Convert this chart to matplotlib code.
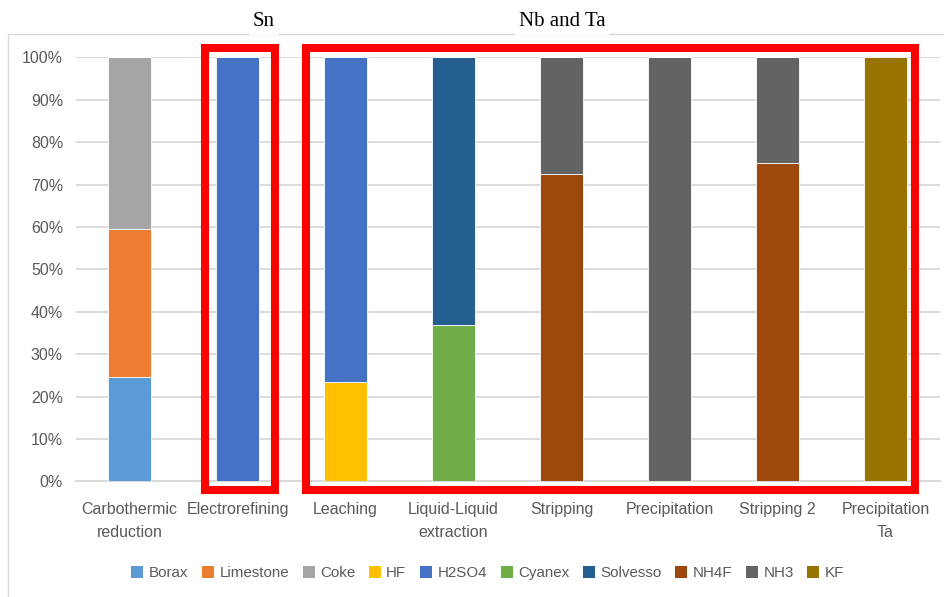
import matplotlib
matplotlib.use('Agg')
import matplotlib.pyplot as plt
from matplotlib.patches import Patch, Rectangle
from matplotlib.ticker import PercentFormatter

plt.rcParams['font.family'] = ['Liberation Sans Narrow', 'Liberation Sans', 'DejaVu Sans']

# reagent share per process step (%)
steps = ['Carbothermic\nreduction', 'Electrorefining', 'Leaching', 'Liquid-Liquid\nextraction',
         'Stripping', 'Precipitation', 'Stripping 2', 'Precipitation\nTa']
reagents = ['Borax', 'Limestone', 'Coke', 'HF', 'H2SO4', 'Cyanex', 'Solvesso', 'NH4F', 'NH3', 'KF']
borax     = [24.6, 0, 0, 0, 0, 0, 0, 0]
limestone = [35.0, 0, 0, 0, 0, 0, 0, 0]
coke      = [40.4, 0, 0, 0, 0, 0, 0, 0]
hf        = [0, 0, 23.4, 0, 0, 0, 0, 0]
h2so4     = [0, 100, 76.6, 0, 0, 0, 0, 0]
cyanex    = [0, 0, 0, 36.8, 0, 0, 0, 0]
solvesso  = [0, 0, 0, 63.2, 0, 0, 0, 0]
nh4f      = [0, 0, 0, 0, 72.6, 0, 75.0, 0]
nh3       = [0, 0, 0, 0, 27.4, 100, 25.0, 0]
kf        = [0, 0, 0, 0, 0, 0, 0, 100]
series = [borax, limestone, coke, hf, h2so4, cyanex, solvesso, nh4f, nh3, kf]
colors = ['#5B9BD5', '#ED7D31', '#A5A5A5', '#FFC000', '#4472C4',
          '#70AD47', '#255E91', '#9E480E', '#636363', '#997300']

fig = plt.figure(figsize=(9.45, 5.97), dpi=100)
ax = fig.add_axes([0.0799, 0.1935, 0.9143, 0.7102])

x = list(range(len(steps)))
bottom = [0.0] * len(steps)
for vals, c in zip(series, colors):
    ax.bar(x, vals, width=0.40, bottom=bottom, color=c, edgecolor='white', linewidth=0.6, zorder=3)
    bottom = [b + v for b, v in zip(bottom, vals)]

ax.set_xlim(-0.5, len(steps) - 0.5)
ax.set_ylim(0, 100)
ax.set_yticks(range(0, 101, 10))
ax.yaxis.set_major_formatter(PercentFormatter(decimals=0))
ax.set_xticks(x)
ax.set_xticklabels(steps, linespacing=1.6)
ax.tick_params(axis='both', length=0, colors='#595959', labelsize=11.5)
ax.tick_params(axis='x', pad=15)
ax.tick_params(axis='y', pad=9)
ax.grid(axis='y', color='#D9D9D9', linewidth=1.3, zorder=0)
for s in ['top', 'right', 'left']:
    ax.spines[s].set_visible(False)
ax.spines['bottom'].set_color('#D9D9D9')
ax.spines['bottom'].set_linewidth(1.3)

# red boxes around the Sn and the Nb/Ta steps
for x0, x1 in [(0.699, 1.347), (1.634, 7.273)]:
    ax.add_patch(Rectangle((x0, -2.0), x1 - x0, 104.2, fill=False, edgecolor='#FF0000',
                           linewidth=5.8, clip_on=False, zorder=5))

# chart frame
fig.patches.append(Rectangle((8 / 945, -0.05), 1.1, 0.943 + 0.05, transform=fig.transFigure,
                             fill=False, edgecolor='#D9D9D9', linewidth=1.0, zorder=0))

for label, xpix in [('Sn', 264), ('Nb and Ta', 562)]:
    fig.text(xpix / 945, (597 - 21) / 597, label, ha='center', va='center', fontsize=15,
             family=['Liberation Serif', 'DejaVu Serif'], color='black',
             bbox=dict(facecolor='white', edgecolor='none', pad=3))

handles = [Patch(facecolor=c, edgecolor='none') for c in colors]
fig.legend(handles, reagents, loc='center', bbox_to_anchor=(0.516, 0.040), ncol=10,
           frameon=False, handlelength=0.8, handleheight=0.8, handletextpad=0.35,
           columnspacing=0.9, labelcolor='#595959', fontsize=10.9)

fig.savefig('out.png', dpi=100)
